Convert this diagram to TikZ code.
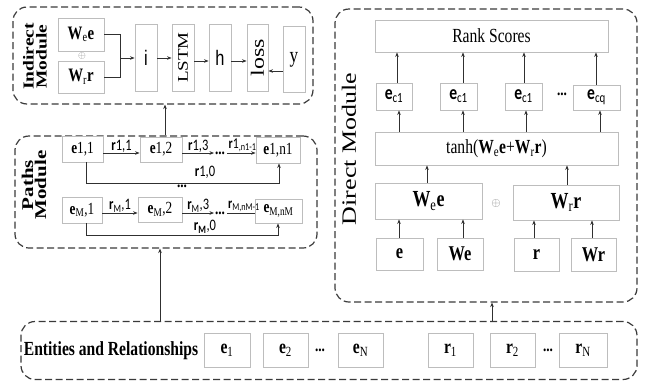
\documentclass[tikz,border=0pt]{standalone}
\usepackage{fontspec}
\usepackage{graphicx}
\setmainfont{Liberation Serif}[FakeStretch=0.78]
\newfontfamily\calib{Carlito}[FakeStretch=0.78]
\newfontfamily\arialn{Liberation Sans}[FakeStretch=0.78]
\newfontfamily\plainserif{Liberation Serif}
\usetikzlibrary{arrows.meta}
\definecolor{bx}{HTML}{BDBDBD}
\definecolor{md}{HTML}{3A3A3A}
\definecolor{ar}{HTML}{303030}
\newcommand\fsz[1]{\fontsize{#1}{#1}\selectfont}
\newcommand\vsq[1]{\scalebox{1}[0.78]{#1}}
\begin{document}
\begin{tikzpicture}[x=1pt,y=-1pt,
  box/.style={draw=bx,line width=0.9pt,fill=white,inner sep=0pt,text=black},
  sz/.style 2 args={minimum width=#1pt,minimum height=#2pt},
  modbox/.style={draw=md,dash pattern=on 7pt off 3.5pt,line width=1.2pt,rounded corners=14pt,inner sep=0pt},
  arr/.style={draw=ar,line width=0.8pt,-{Stealth[length=4.5pt,width=3.6pt]}},
  ln/.style={draw=ar,line width=0.8pt},
  lab/.style={inner sep=0.5pt,font=\calib\fsz{16}},
  dots/.style={inner sep=0pt,font=\bfseries\fsz{17}}]
\useasboundingbox (0,0) rectangle (646,381);

% ---------------- Indirect module
\node[modbox,sz={300}{97}] (ind) at (163,55.5) {};
\node[rotate=90,align=center,inner sep=0pt,font=\plainserif\bfseries\fontsize{19.5}{13}\selectfont] (indlab) at (35,56.5) {\vsq{Indirect}\\\vsq{Module}};
\node[box,sz={46}{33},font=\fsz{19}] (Wee) at (81,34.5) {\textbf{W}\textsubscript{e}\textbf{e}};
\node[box,sz={46}{32},font=\fsz{19}] (Wrr) at (81,77) {\textbf{W}\textsubscript{r}\textbf{r}};
\node[inner sep=0pt,text=gray,font=\fsz{10}] (op1) at (82,56) {$\oplus$};
\node[box,sz={22}{67},font=\arialn\fsz{21}] (i) at (146,57.5) {i};
\node[box,sz={22}{67}] (LSTM) at (183,57.5) {};
\node[rotate=90,inner sep=0pt,font=\plainserif\fsz{19}] (LSTMt) at (LSTM) {\vsq{LSTM}};
\node[box,sz={22}{67},font=\arialn\fsz{21}] (h) at (220,57.5) {h};
\node[box,sz={21}{67}] (loss) at (257.5,57.5) {};
\node[rotate=90,inner sep=0pt,font=\plainserif\fsz{24}] (losst) at (loss) {\vsq{loss}};
\node[box,sz={22}{66},font=\fsz{22}] (y) at (294,59.5) {y};
\coordinate (jn) at (120,58);
\draw[ln] (Wee.east) -| (jn);
\draw[ln] (Wrr.east) -| (jn);
\draw[arr] (jn) -- (i.west|-jn);
\draw[arr] (i.east|-0,58) -- (LSTM.west|-0,58);
\draw[arr] (LSTM.east|-0,61) -- (h.west|-0,61);
\draw[arr] (h.east|-0,61) -- (loss.west|-0,61);
\draw[arr] (y.west|-0,71) -- (loss.east|-0,71);

% ---------------- Paths module
\node[modbox,sz={302}{112}] (paths) at (166,192) {};
\node[rotate=90,align=center,inner sep=0pt,font=\plainserif\bfseries\fontsize{21}{13}\selectfont] (pathlab) at (34,185) {\vsq{Paths}\\\vsq{Module}};
\node[box,sz={41}{26},font=\fsz{17}] (e11) at (82.5,149) {\textbf{e}1,1};
\node[box,sz={42}{25},font=\fsz{17}] (e12) at (161,149.5) {\textbf{e}1,2};
\node[box,sz={44}{26},font=\fsz{17}] (e1n) at (278,150) {\textbf{e}1,n1};
\node[box,sz={40}{26},font=\fsz{17}] (eM1) at (82,210) {\textbf{e}\textsubscript{M},1};
\node[box,sz={44}{25},font=\fsz{17}] (eM2) at (160,209.5) {\textbf{e}\textsubscript{M},2};
\node[box,sz={47}{24},font=\fsz{17}] (eMn) at (278.5,211) {\textbf{e}\textsubscript{M,nM}};
% row 1
\draw[arr] (e11.east|-0,153) -- node[lab,above] {\textbf{r}1,1} (e12.west|-0,153);
\coordinate (a1) at (214,153);
\coordinate (b1) at (227,153);
\draw[arr] (e12.east|-0,153) -- node[lab,above] {\textbf{r}1,3} (a1);
\node[dots,anchor=base] (d1) at (220,154) {...};
\draw[arr] (b1) -- (e1n.west|-b1);
\node[lab,anchor=south west,font=\calib\fsz{15}] (l1n) at (228,152.5) {\textbf{r}1\textsubscript{,n1-1}};
\draw[arr] ([xshift=4pt]e11.south) |- (279,183) -- (e1n.south-|279,0);
\node[lab] (r10) at (205,172) {\textbf{r}1,0};
\node[dots] (dmid) at (182,186) {...};
% row M
\draw[arr] (eM1.east|-0,213) -- node[lab,above] {\textbf{r}\textsubscript{M},1} (eM2.west|-0,213);
\coordinate (a2) at (214,213);
\coordinate (b2) at (227,213);
\draw[arr] (eM2.east|-0,213) -- node[lab,above] {\textbf{r}\textsubscript{M},3} (a2);
\node[dots,anchor=base] (d2) at (220,214) {...};
\draw[ln] (b2) -- (eMn.west|-b2);
\node[lab,anchor=south west,font=\calib\fsz{15}] (lMn) at (227.5,212.5) {\textbf{r}\textsubscript{M,nM-1}};
\draw[arr] ([xshift=4pt]eM1.south) |- (278,235) -- (eMn.south-|278,0);
\node[lab] (rM0) at (205,227) {\textbf{r}\textsubscript{\textbf{M}},0};

\draw[arr] (paths.north-|165,0) -- (ind.south-|165,0);

% ---------------- Direct module
\node[modbox,sz={302}{293}] (dir) at (486,155.5) {};
\node[rotate=90,inner sep=0pt,font=\plainserif\fsz{26}] (dirlab) at (349,149) {\vsq{Direct Module}};
\node[box,sz={233}{32},font=\fsz{20}] (rank) at (491.5,36) {Rank Scores};
\node[box,sz={36}{27},font=\calib\fsz{20}] (ec1) at (394,96.5) {\textbf{e}\textsubscript{c1}};
\node[box,sz={37}{27},font=\calib\fsz{20}] (ec2) at (458.5,96.5) {\textbf{e}\textsubscript{c1}};
\node[box,sz={37}{27},font=\calib\fsz{20}] (ec3) at (523.5,96.5) {\textbf{e}\textsubscript{c1}};
\node[dots] (dc) at (562,94) {...};
\node[box,sz={47}{25},font=\calib\fsz{20}] (ecq) at (596.5,97.5) {\textbf{e}\textsubscript{cq}};
\node[box,sz={243}{33},font=\fsz{20}] (tanh) at (496.5,148.5) {tanh(\textbf{W}\textsubscript{e}\textbf{e}+\textbf{W}\textsubscript{r}\textbf{r})};
\node[box,sz={107}{36},font=\fsz{23}] (Wee2) at (428.5,201) {\textbf{W}\textsubscript{e}\textbf{e}};
\node[inner sep=0pt,text=gray,font=\fsz{12}] (op2) at (496,203) {$\oplus$};
\node[box,sz={106}{35},font=\fsz{23}] (Wrr2) at (566,202.5) {\textbf{W}\textsubscript{r}\textbf{r}};
\node[box,sz={47}{32},font=\bfseries\fsz{21}] (e) at (399.5,254) {e};
\node[box,sz={46}{32},font=\bfseries\fsz{21}] (We) at (460,254) {We};
\node[box,sz={45}{33},font=\bfseries\fsz{21}] (r) at (536.5,254.5) {r};
\node[box,sz={45}{33},font=\bfseries\fsz{21}] (Wr) at (593.5,254.5) {Wr};
\foreach \n/\xx in {ec1/397,ec2/463,ec3/524,ecq/596}{
  \draw[arr] (\n.north-|\xx,0) -- (rank.south-|\xx,0);}
\foreach \n/\xx in {ec1/399,ec2/463,ec3/526,ecq/600}{
  \draw[arr] (tanh.north-|\xx,0) -- (\n.south-|\xx,0);}
\draw[arr] (Wee2.north-|427,0) -- (tanh.south-|427,0);
\draw[arr] (Wrr2.north-|567,0) -- (tanh.south-|567,0);
\draw[arr] (e.north-|399,0) -- (Wee2.south-|399,0);
\draw[arr] (We.north-|463,0) -- (Wee2.south-|463,0);
\draw[arr] (r.north-|534,0) -- (Wrr2.south-|534,0);
\draw[arr] (Wr.north-|592,0) -- (Wrr2.south-|592,0);

% ---------------- Entities and relationships
\node[modbox,sz={616}{58}] (ent) at (329,350.5) {};
\node[inner sep=0pt,font=\bfseries\fsz{20}] (entlab) at (111,351) {Entities and Relationships};
\node[box,sz={46}{34},font=\fsz{20}] (en1) at (227,350) {\textbf{e}\textsubscript{1}};
\node[box,sz={45}{34},font=\fsz{20}] (en2) at (285.5,350) {\textbf{e}\textsubscript{2}};
\node[dots] (de) at (320,350) {...};
\node[box,sz={45}{34},font=\fsz{20}] (enN) at (360.5,350) {\textbf{e}\textsubscript{N}};
\node[box,sz={45}{34},font=\fsz{20}] (rn1) at (450.5,350) {\textbf{r}\textsubscript{1}};
\node[box,sz={45}{34},font=\fsz{20}] (rn2) at (512.5,350) {\textbf{r}\textsubscript{2}};
\node[dots] (dr) at (548,350) {...};
\node[box,sz={48}{34},font=\fsz{20}] (rnN) at (583,350) {\textbf{r}\textsubscript{N}};

\draw[arr] (ent.north-|160,0) -- (paths.south-|160,0);
\draw[arr] (ent.north-|492,0) -- (dir.south-|492,0);
\end{tikzpicture}
\end{document}
